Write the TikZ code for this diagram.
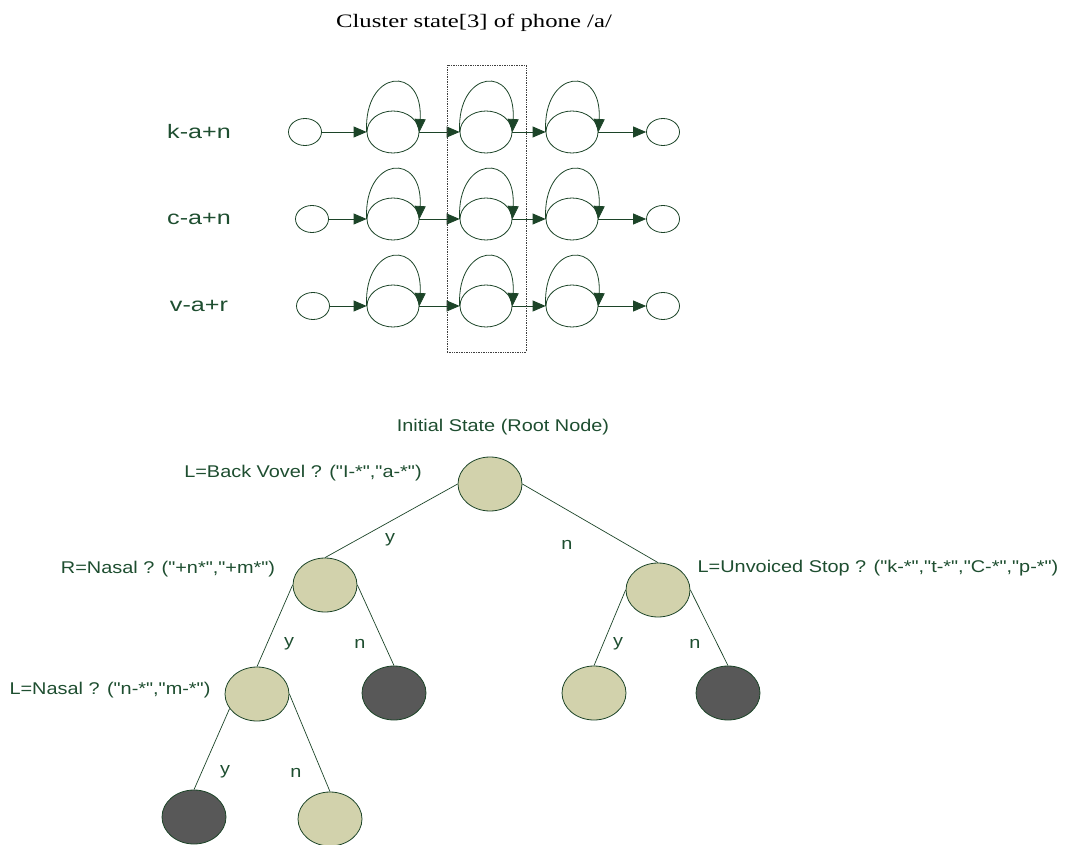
\documentclass[tikz,border=0pt]{standalone}
\usepackage{fontspec}
\setmainfont{Liberation Serif}
\newfontfamily\titlefont[FakeStretch=1.3]{Liberation Serif}
\newfontfamily\hmmfont[FakeStretch=1.29]{Liberation Sans}
\newfontfamily\treefont[FakeStretch=1.17]{Liberation Sans}
\usetikzlibrary{shapes.geometric,arrows.meta}

\definecolor{hmmline}{RGB}{28,68,40}
\definecolor{hmmtext}{RGB}{30,78,48}
\definecolor{yesfill}{RGB}{210,210,172}
\definecolor{nofill}{RGB}{88,88,88}

\tikzset{
  endstate/.style={ellipse,draw=hmmline,line width=0.8pt,minimum width=33pt,minimum height=27pt,inner sep=0pt},
  hmmstate/.style={ellipse,draw=hmmline,line width=0.8pt,minimum width=52pt,minimum height=42pt,inner sep=0pt},
  trans/.style={draw=hmmline,line width=0.8pt,-{Triangle[length=13pt,width=11pt]},hmmline},
  qnode/.style={ellipse,draw=hmmline,line width=0.8pt,fill=yesfill,minimum width=64pt,minimum height=54pt,inner sep=0pt},
  leafnode/.style={qnode,fill=nofill},
  branch/.style={draw=hmmline,line width=0.7pt},
  question/.style={text=hmmtext,font=\treefont\fontsize{17}{20}\selectfont,inner sep=0pt},
  answer/.style={question}
}

\begin{document}
\begin{tikzpicture}[x=1pt,y=-1pt]
  \useasboundingbox (0,0) rectangle (1070,845);

  \node[font=\titlefont\fontsize{19}{22}\selectfont] (title) at (474,23) {Cluster state[3] of phone /a/};

  % three context-dependent models of /a/
  \foreach \ctx/\y/\x in {k-a+n/132/305, c-a+n/219/312, v-a+r/306/313} {
    \node[text=hmmtext,font=\hmmfont\fontsize{19.5}{22}\selectfont] (lab-\ctx) at (199,\y) {\ctx};
    \node[endstate] (in-\ctx) at (\x,\y) {};
    \node[hmmstate] (s1-\ctx) at (393,\y) {};
    \node[hmmstate] (s2-\ctx) at (486,\y) {};
    \node[hmmstate] (s3-\ctx) at (572,\y) {};
    \node[endstate] (out-\ctx) at (663,\y) {};

    \draw[trans] (in-\ctx) -- (s1-\ctx);
    \draw[trans] (s1-\ctx) -- (s2-\ctx);
    \draw[trans] (s2-\ctx) -- (s3-\ctx);
    \draw[trans] (s3-\ctx) -- (out-\ctx);
    \foreach \s in {s1,s2,s3}
      \draw[trans] (\s-\ctx.west) .. controls +(-3,-63) and +(4,-68) .. (\s-\ctx.east);
  }

  % tied middle state
  \node[draw=black!75,densely dotted,line width=0.7pt,minimum width=79pt,minimum height=287pt,inner sep=0pt] (cluster) at (486.5,208.5) {};

  % decision tree
  \node[question] (rootlab) at (503,427) {Initial State (Root Node)};
  \node[qnode] (root) at (490,484) {};
  \node[qnode] (nl) at (325,585) {};
  \node[qnode] (nr) at (658,590) {};
  \node[qnode] (nll) at (257,694) {};
  \node[leafnode] (nlr) at (394,693) {};
  \node[qnode] (nrl) at (594,693) {};
  \node[leafnode] (nrr) at (728,693) {};
  \node[leafnode] (nlll) at (194,817) {};
  \node[qnode] (nllr) at (330,819) {};

  \node[question] (qroot) at (303,473) {L=Back Vovel ? ("I-*","a-*")};
  \node[question] (qnl) at (168,569) {R=Nasal ? ("+n*","+m*")};
  \node[question] (qnr) at (878,568) {L=Unvoiced Stop ? ("k-*","t-*","C-*","p-*")};
  \node[question] (qnll) at (110,690) {L=Nasal ? ("n-*","m-*")};

  \draw[branch] (root.west) -- (nl.north);
  \draw[branch] (root.east) -- (nr.north);
  \draw[branch] (nl.west) -- (nll.north);
  \draw[branch] (nl.east) -- (nlr.north);
  \draw[branch] (nr.west) -- (nrl.north);
  \draw[branch] (nr.east) -- (nrr.north);
  \draw[branch] (nll.208) -- (nlll.north);
  \draw[branch] (nll.east) -- (nllr.north);

  \node[answer] (a1) at (390,540) {y};
  \node[answer] (a2) at (567,545) {n};
  \node[answer] (a3) at (289,644) {y};
  \node[answer] (a4) at (360,644) {n};
  \node[answer] (a5) at (618,644) {y};
  \node[answer] (a6) at (695,644) {n};
  \node[answer] (a7) at (225,772) {y};
  \node[answer] (a8) at (296,773) {n};
\end{tikzpicture}
\end{document}
